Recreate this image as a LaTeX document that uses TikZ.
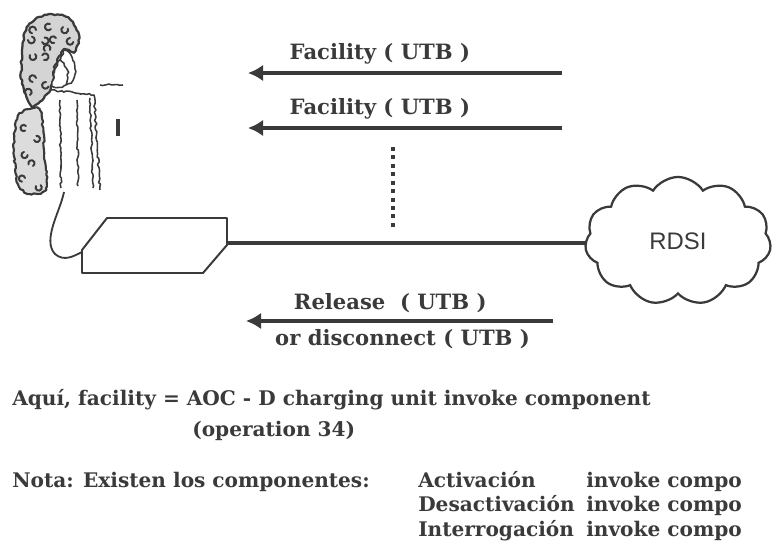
\documentclass[tikz,border=0pt]{standalone}
\usepackage{fontspec}
\setmainfont{DejaVu Serif}
\setsansfont{Liberation Sans}
\usetikzlibrary{arrows.meta,positioning,shapes.symbols,decorations.pathmorphing}
\definecolor{ink}{HTML}{3A3A3A}

\begin{document}
\begin{tikzpicture}[x=0.025cm, y=-0.025cm,
    msg/.style={draw=ink, line width=2.2pt, -{Latex[length=0.38cm, width=0.42cm]}},
    lbl/.style={text=ink, font=\bfseries\fontsize{15}{17}\selectfont, inner sep=1pt},
    note/.style={text=ink, font=\bfseries\fontsize{14.3}{16}\selectfont, anchor=base west, inner sep=0pt},
    sketch/.style={draw=ink, line width=1.1pt, line join=round, decorate,
      decoration={random steps, segment length=2pt, amplitude=0.7pt}},
    curl/.style={draw=ink, line width=1.4pt, line cap=round},
    link/.style={draw=ink, line width=2.6pt}
  ]
  \useasboundingbox (0,0) rectangle (772,545);
  \clip (0,0) rectangle (772,545);
  \pgfmathsetseed{7}

  % person on the phone
  \draw[sketch, line width=1.6pt, fill=ink!22] plot[smooth cycle] coordinates {(22,50) (28,26) (46,15) (66,17) (78,32) (76,50) (64,50) (56,64) (52,84) (44,98) (32,106) (22,84)};
  \foreach \p/\a in {(36,30)/0,(50,24)/60,(63,27)/120,(42,42)/200,(56,38)/30,(70,38)/90,(30,55)/150,(44,60)/250,(36,78)/10,(30,95)/300,(46,82)/80,(28,40)/180,(50,50)/330}
    \draw[curl] \p arc[start angle=\a, delta angle=260, radius=2.4pt];
  \draw[sketch, fill=white] (64,50) .. controls (73,54) and (78,68) .. (73,80) .. controls (68,87) and (58,88) .. (52,86) .. controls (55,70) .. cycle;
  \draw[sketch] (60,60) .. controls (67,66) and (70,74) .. (66,84);
  \draw[sketch] (100,85) -- (123,85);
  \draw[sketch] (50,90) -- (94,95) -- (100,190);
  \draw[sketch, line width=1.5pt, fill=ink!18] plot[smooth cycle] coordinates {(18,116) (40,110) (44,150) (46,188) (30,194) (18,184) (14,150)};
  \foreach \p/\a in {(26,126)/40,(34,140)/200,(24,152)/100,(33,166)/300,(25,178)/10,(36,186)/150}
    \draw[curl] \p arc[start angle=\a, delta angle=260, radius=2.2pt];
  \draw[sketch] (60,100) -- (61,188);
  \draw[sketch] (77,100) -- (78,186);
  \draw[sketch] (90,98) -- (93,188);
  \draw[ink, line width=2.4pt] (118,119) -- (118,136);

  % terminal and cord
  \draw[ink, line width=1.4pt, line join=round] (107,218) -- (227,218) -- (227,245) -- (203,273) -- (82,273) -- (82,250) -- cycle;
  \coordinate (term) at (227,243);
  \coordinate (cord) at (82,252);
  \draw[ink, line width=1.3pt] (64,192) .. controls (60,212) and (42,240) .. (55,254) .. controls (64,262) and (74,256) .. (cord);

  \node[cloud, cloud puffs=11, cloud puff arc=115, draw=ink, line width=1.6pt, minimum width=4.65cm, minimum height=3.2cm,
    font=\sffamily\fontsize{17}{20}\selectfont, text=ink] (rdsi) at (678,241) {RDSI};
  \draw[link] (term) -- (term -| rdsi.west);

  % messages
  \coordinate (f1a) at (562,73);
  \coordinate (f1b) at (248,73);
  \coordinate (f2a) at (562,128);
  \coordinate (f2b) at (248,128);
  \coordinate (rla) at (553,321);
  \coordinate (rlb) at (246,321);
  \draw[msg] (f1a) -- node[lbl, above=4pt, pos=0.58] {Facility ( UTB )} (f1b);
  \draw[msg] (f2a) -- node[lbl, above=4pt, pos=0.58] {Facility ( UTB )} (f2b);
  \draw[ink, line width=2.2pt, dash pattern=on 2.8pt off 3.2pt] (393,147) -- (393,230);
  \draw[msg] (rla) -- node[lbl, above=4pt, pos=0.53] {Release~ ( UTB )}
                      node[lbl, below=4pt, pos=0.49] {or disconnect ( UTB )} (rlb);

  % notes
  \node[note] (aqui) at (12,405) {Aquí, facility = AOC - D charging unit invoke component};
  \node[note] (oper) at (192,436) {(operation 34)};
  \node[note] (nota) at (12,487) {Nota: Existen los componentes:};
  \node[note] (act) at (418,487) {Activación};
  \node[note] (des) at (418,511) {Desactivación};
  \node[note] (int) at (418,536) {Interrogación};
  \node[note] (inv1) at (586,487) {invoke compo};
  \node[note] (inv2) at (586,511) {invoke compo};
  \node[note] (inv3) at (586,536) {invoke compo};
\end{tikzpicture}
\end{document}
